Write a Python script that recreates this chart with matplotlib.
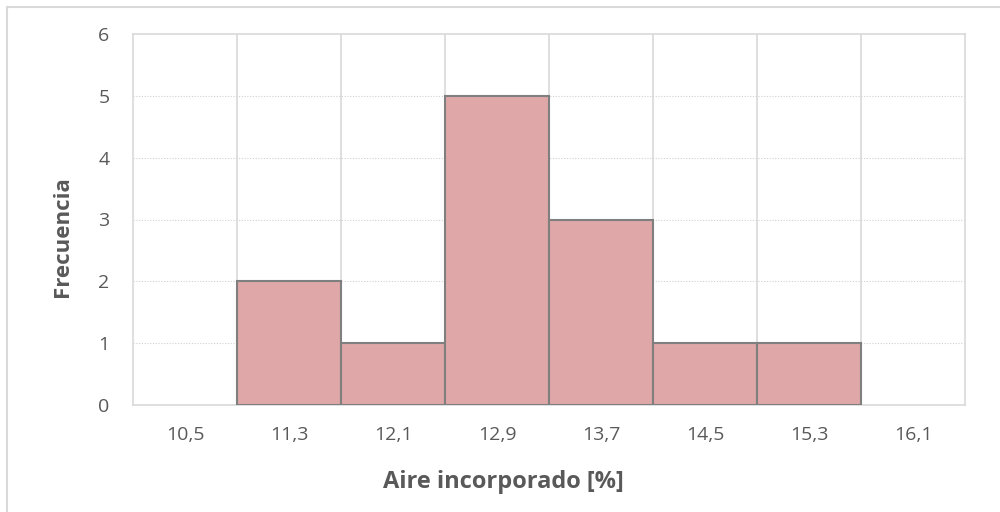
import matplotlib
matplotlib.use("Agg")
import matplotlib.pyplot as plt
from matplotlib.patches import Rectangle

categories = ["10,5", "11,3", "12,1", "12,9", "13,7", "14,5", "15,3", "16,1"]
frequencies = [0, 2, 1, 5, 3, 1, 1, 0]
y_ticks = [0, 1, 2, 3, 4, 5, 6]

plt.rcParams['font.family'] = ['Open Sans', 'DejaVu Sans']

W, H = 1000, 512
fig = plt.figure(figsize=(W / 100, H / 100), dpi=100)
ax = fig.add_axes([133 / W, 1 - 405 / H, (965 - 133) / W, (405 - 34) / H])

x = list(range(len(categories)))
bars = ax.bar(x, frequencies, width=1.0, color="#dfa7a7", edgecolor="#7f7f7f",
              linewidth=1.5, zorder=3)
for b, v in zip(bars, frequencies):
    if v == 0:
        b.set_linewidth(0)

ax.set_xlim(-0.5, len(categories) - 0.5)
ax.set_ylim(0, 6)
ax.set_yticks(y_ticks)
ax.set_xticks(x)
ax.set_xticklabels(categories)

# gridlines
for b in range(1, len(categories)):
    ax.axvline(b - 0.5, color="#d9d9d9", linewidth=1.2, zorder=1)
for yv in y_ticks[1:-1]:
    ax.axhline(yv, color="#d0d0d0", linewidth=0.8, linestyle=(0, (1, 1.5)), zorder=1)

for s in ax.spines.values():
    s.set_color("#d9d9d9")
    s.set_linewidth(1.2)

ax.tick_params(axis="both", length=0, colors="#595959", labelsize=14)
ax.tick_params(axis="x", pad=15)
ax.tick_params(axis="y", pad=17)

fig.text(503 / W, 1 - 488 / H, "Aire incorporado [%]", fontsize=17,
         fontweight="bold", color="#595959", ha="center", va="baseline")
fig.text(62 / W, 1 - 237 / H, "Frecuencia", fontsize=16, fontweight="bold",
         color="#595959", ha="center", va="center", rotation=90)

# outer chart border
fig.patches.append(Rectangle((7 / W, -0.01), 1.0, 1 - 7 / H + 0.01,
                             transform=fig.transFigure, fill=False,
                             edgecolor="#d9d9d9", linewidth=1.5))

fig.savefig("out.png", dpi=100, facecolor="white")
